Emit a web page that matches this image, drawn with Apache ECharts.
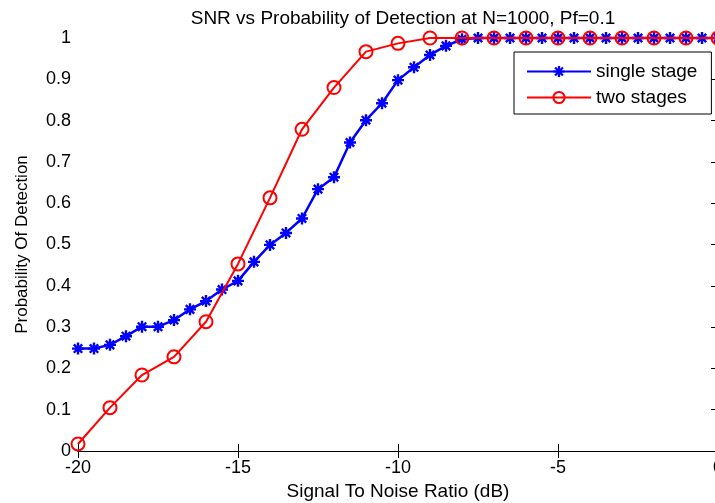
<!DOCTYPE html>
<html>
<head>
<meta charset="utf-8">
<script src="https://cdn.jsdelivr.net/npm/echarts@6/dist/echarts.min.js"></script>
<style>
html,body{margin:0;padding:0;background:#fff;}
#chart{width:715px;height:503px;}
</style>
</head>
<body>
<div id="chart"></div>
<script>
// ---- data ----
var titleText = 'SNR vs Probability of Detection at N=1000, Pf=0.1';
var xAxisName = 'Signal To Noise Ratio (dB)';
var yAxisName = 'Probability Of Detection';
var seriesNames = ['single stage', 'two stages'];

var snrSingle = [-20, -19.5, -19, -18.5, -18, -17.5, -17, -16.5, -16, -15.5, -15, -14.5, -14, -13.5, -13, -12.5, -12, -11.5, -11, -10.5, -10, -9.5, -9, -8.5, -8, -7.5, -7, -6.5, -6, -5.5, -5, -4.5, -4, -3.5, -3, -2.5, -2, -1.5, -1, -0.5, 0];
var pdSingle = [0.248, 0.248, 0.257, 0.278, 0.301, 0.301, 0.317, 0.343, 0.363, 0.391, 0.412, 0.458, 0.499, 0.528, 0.563, 0.634, 0.663, 0.747, 0.801, 0.842, 0.898, 0.929, 0.959, 0.981, 0.997, 1, 1, 1, 1, 1, 1, 1, 1, 1, 1, 1, 1, 1, 1, 1, 1];

var snrTwo = [-20, -19, -18, -17, -16, -15, -14, -13, -12, -11, -10, -9, -8, -7, -6, -5, -4, -3, -2, -1, 0];
var pdTwo = [0.017, 0.105, 0.184, 0.228, 0.313, 0.453, 0.613, 0.779, 0.880, 0.967, 0.987, 1, 1, 1, 1, 1, 1, 1, 1, 1, 1];

var xTicks = [-20, -15, -10, -5, 0];
var yTicks = [0, 0.1, 0.2, 0.3, 0.4, 0.5, 0.6, 0.7, 0.8, 0.9, 1];

// ---- build ----
function pairs(xs, ys) { return xs.map(function (x, i) { return [x, ys[i]]; }); }

var FONT = '"Liberation Sans", Arial, Helvetica, sans-serif';
var starPath = 'path://M-1,-5L1,-5L1,5L-1,5Z M-5,-1L5,-1L5,1L-5,1Z M-2.8,-4.2L4.2,2.8L2.8,4.2L-4.2,-2.8Z M2.8,-4.2L4.2,-2.8L-2.8,4.2L-4.2,2.8Z';

var chart = echarts.init(document.getElementById('chart'), null, { renderer: 'canvas' });

var axisLineStyle = { show: true, lineStyle: { color: '#000', width: 1 } };
var tickStyle = { show: true, inside: true, length: 7, lineStyle: { color: '#000', width: 1 } };

var option = {
  backgroundColor: '#fff',
  animation: false,
  textStyle: { fontFamily: FONT },
  title: {
    text: titleText,
    left: 398,
    textAlign: 'center',
    top: 4,
    textStyle: { fontFamily: FONT, fontSize: 19, fontWeight: 'normal', color: '#000' }
  },
  legend: {
    orient: 'vertical',
    left: 514,
    top: 52,
    padding: [10, 14, 7, 12],
    itemWidth: 64,
    itemHeight: 14,
    itemGap: 7,
    borderColor: '#000',
    borderWidth: 1,
    borderRadius: 0,
    backgroundColor: '#fff',
    textStyle: { fontFamily: FONT, fontSize: 19, color: '#000' },
    data: seriesNames
  },
  grid: { left: 78, top: 38, width: 640, height: 413, containLabel: false, outerBoundsMode: 'none' },
  xAxis: [{
    type: 'value',
    min: xTicks[0],
    max: xTicks[xTicks.length - 1],
    interval: 5,
    name: xAxisName,
    nameLocation: 'middle',
    nameGap: 30,
    nameTextStyle: { fontFamily: FONT, fontSize: 19, color: '#000' },
    axisLine: axisLineStyle,
    axisTick: tickStyle,
    axisLabel: { margin: 8, fontFamily: FONT, fontSize: 18, color: '#000' },
    splitLine: { show: false }
  }, {
    type: 'value',
    position: 'top',
    min: xTicks[0],
    max: xTicks[xTicks.length - 1],
    interval: 5,
    axisLine: axisLineStyle,
    axisTick: tickStyle,
    axisLabel: { show: false },
    splitLine: { show: false }
  }],
  yAxis: [{
    type: 'value',
    min: yTicks[0],
    max: yTicks[yTicks.length - 1],
    interval: 0.1,
    name: yAxisName,
    nameLocation: 'middle',
    nameGap: 47,
    nameTextStyle: { fontFamily: FONT, fontSize: 17, color: '#000' },
    axisLine: axisLineStyle,
    axisTick: tickStyle,
    axisLabel: { margin: 7, fontFamily: FONT, fontSize: 18, color: '#000',
      formatter: function (v) { return String(Math.round(v * 10) / 10); } },
    splitLine: { show: false }
  }, {
    type: 'value',
    position: 'right',
    min: yTicks[0],
    max: yTicks[yTicks.length - 1],
    interval: 0.1,
    axisLine: axisLineStyle,
    axisTick: tickStyle,
    axisLabel: { show: false },
    splitLine: { show: false }
  }],
  series: [{
    name: seriesNames[0],
    type: 'line',
    xAxisIndex: 0,
    yAxisIndex: 0,
    data: pairs(snrSingle, pdSingle),
    symbol: starPath,
    symbolSize: 12,
    showAllSymbol: true,
    itemStyle: { color: '#0000ff' },
    lineStyle: { color: '#0000ff', width: 2.5 },
    clip: false,
    z: 2
  }, {
    name: seriesNames[1],
    type: 'line',
    xAxisIndex: 0,
    yAxisIndex: 0,
    data: pairs(snrTwo, pdTwo),
    symbol: 'circle',
    symbolSize: 13,
    showAllSymbol: true,
    itemStyle: { color: 'rgba(255,255,255,0)', borderColor: '#ff0000', borderWidth: 2 },
    lineStyle: { color: '#ff0000', width: 2 },
    clip: false,
    z: 3
  }]
};
chart.setOption(option);
</script>
</body>
</html>
